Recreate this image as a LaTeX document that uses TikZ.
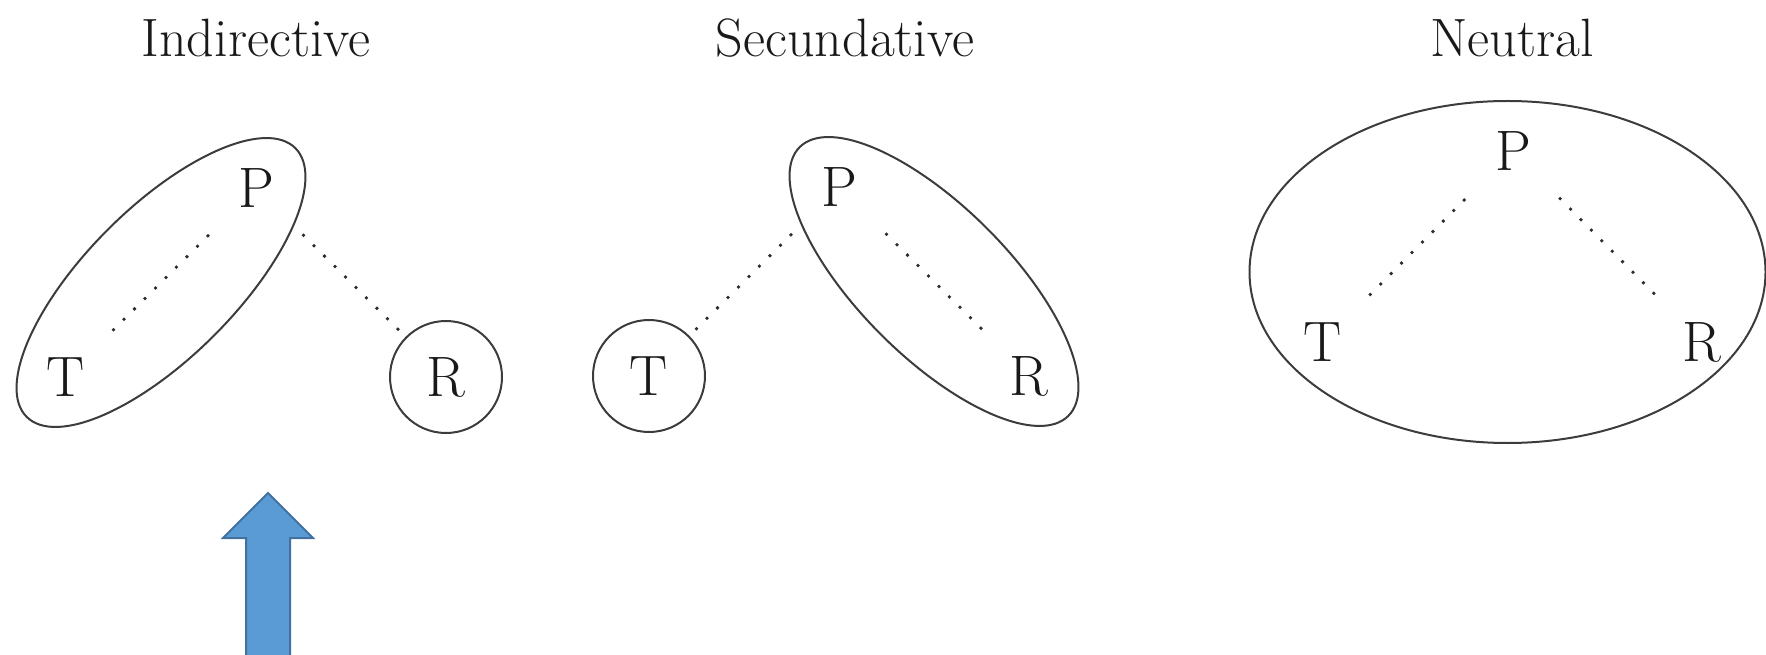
\documentclass[tikz,border=0pt]{standalone}
\usepackage{fontspec}
\usepackage{tikz}
\usetikzlibrary{positioning, calc, shapes.geometric}

\definecolor{linegray}{RGB}{60,60,60}
\definecolor{dotgray}{RGB}{45,45,45}
\definecolor{arrowblue}{RGB}{91,155,213}
\definecolor{arrowedge}{RGB}{65,113,156}

\begin{document}
\begin{tikzpicture}[x=1pt, y=1pt, node distance=189pt and 190pt, on grid,
    role/.style={font=\fontsize{57}{60}\selectfont, text=black!90, inner sep=2pt},
    title/.style={font=\fontsize{54}{58}\selectfont, text=black!90, anchor=base},
    ring/.style={draw=linegray, line width=2pt, circle, minimum size=112pt},
    group/.style={draw=linegray, line width=2pt, ellipse, inner sep=0pt},
    link/.style={draw=dotgray, line width=3.8pt, line cap=round,
      dash pattern=on 0pt off 14.8pt, shorten <=67pt, shorten >=67pt}]
  \useasboundingbox (0,0) rectangle (1766,654);

  % Indirective
  \node[title] (ind) at (256,597) {Indirective};
  \node[role] (T1) at (66,277) {T};
  \node[role] (P1) [above right=of T1] {P};
  \node[role, ring] (R1) [below right=of P1] {R};
  \node[group, rotate=45, minimum width=380pt, minimum height=150pt] (G1) at ($(T1)!0.5!(P1)$) {};
  \draw[link] (T1.center) -- (P1.center);
  \draw[link] (P1.center) -- (R1.center);

  % Secundative
  \node[title] (sec) at (845,597) {Secundative};
  \node[role, ring] (T2) at (649,278) {T};
  \node[role] (P2) [above right=of T2] {P};
  \node[role] (R2) [below right=of P2] {R};
  \node[group, rotate=-45, minimum width=380pt, minimum height=150pt] (G2) at ($(P2)!0.5!(R2)$) {};
  \draw[link] (T2.center) -- (P2.center);
  \draw[link] (P2.center) -- (R2.center);

  % Neutral
  \node[title] (neu) at (1512,597) {Neutral};
  \node[role] (T3) at (1323,312) {T};
  \node[role] (P3) [above right=191pt and 190pt of T3] {P};
  \node[role] (R3) [below right=191pt and 189pt of P3] {R};
  \node[group, minimum width=516pt, minimum height=342pt] (G3) at ($(T3)!0.5!(R3) + (-5,70)$) {};
  \draw[link] (T3.center) -- (P3.center);
  \draw[link] (P3.center) -- (R3.center);

  % blue arrow
  \draw[draw=arrowedge, fill=arrowblue, line width=2pt, line join=miter]
    (246,-4) -- (246,116) -- (223,116) -- (268,161) -- (313,116) -- (290,116) -- (290,-4) -- cycle;
\end{tikzpicture}
\end{document}
